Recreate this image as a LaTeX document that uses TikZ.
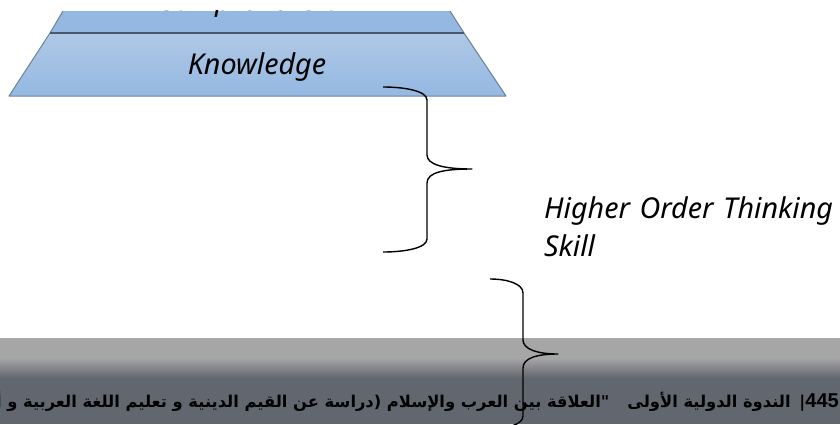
\documentclass[tikz,border=0pt]{standalone}
\usepackage{fontspec}
\setmainfont{DejaVu Sans}
\newfontfamily\arabicfont[Script=Arabic]{DejaVu Sans}
\newfontfamily\digitfont{Liberation Sans}
\newfontfamily\labelfont{Noto Sans}
\TeXXeTstate=1
\definecolor{layerTop}{HTML}{AFC8E6}
\definecolor{layerBot}{HTML}{94B8E2}
\definecolor{layerEdge}{HTML}{6E8299}
\definecolor{layerLine}{HTML}{46586E}
\definecolor{bandTop}{HTML}{A6A6A6}
\definecolor{bandBot}{HTML}{62666F}
\tikzset{
  x=1pt,y=-1pt,
  layer/.style={top color=layerTop,bottom color=layerBot},
  edge/.style={draw=layerEdge,line width=1pt,line join=round},
  bracecurve/.style={draw=black,line width=1.4pt,line join=round},
  lbl/.style={font=\labelfont\itshape\fontsize{28.7}{38}\selectfont,text=black,inner sep=0pt},
}
\begin{document}
\begin{tikzpicture}
\useasboundingbox (0,0) rectangle (840,424);
% band
\fill[bandTop] (0,338) rectangle (840,358);
\shade[top color=bandTop,bottom color=bandBot] (0,358) rectangle (840,378);
\fill[bandBot] (0,378) rectangle (840,424);
% pyramid, cut off at top
\fill[layerBot] (63,11) -- (450,11) -- (464,33) -- (50,33) -- cycle;
\path[layer] (50,33) -- (464,33) -- (506,96) -- (9,96) -- cycle;
\draw[edge] (63,11) -- (50,33) -- (9,96) -- (506,96) -- (464,33) -- (450,11);
\draw[draw=layerLine,line width=1.2pt] (50,33) -- (464,33);
\node[lbl,anchor=base] (comp) at (257,10.2) {Comprehension};
\fill[white] (0,0) rectangle (840,10.0);
\node[lbl,anchor=base] (know) at (257,74) {Knowledge};
% braces
\draw[bracecurve] (383,87) .. controls (405,87) and (427,91) .. (427,100) -- (427,155)
  .. controls (427,165) and (445,169) .. (472,169)
  .. controls (445,169) and (427,172) .. (427,183) -- (427,239)
  .. controls (427,248) and (405,252) .. (383,252);
\draw[bracecurve] (490,279) .. controls (508,279) and (523,284) .. (523,293) -- (523,340)
  .. controls (523,349) and (537,354) .. (558,354)
  .. controls (537,354) and (523,358) .. (523,368) -- (523,416)
  .. controls (523,424) and (508,429) .. (490,429);
\node[lbl,anchor=base west,align=left,text width=295pt] (hots) at (544,218) {Higher Order Thinking\\Skill};
% footer
\node[anchor=base east,inner sep=0pt,font=\arabicfont\bfseries\fontsize{16.3}{20}\selectfont,text=black] (foot) at (839,407)
 {\beginR\beginL{\digitfont\bfseries\fontsize{20}{20}\selectfont 445}\endL|\hspace{3pt} الندوة الدولية الأولى\hspace{18pt}"العلاقة بين العرب والإسلام (دراسة عن القيم الدينية و تعليم اللغة العربية و أدبها)\endR};
\end{tikzpicture}
\end{document}
